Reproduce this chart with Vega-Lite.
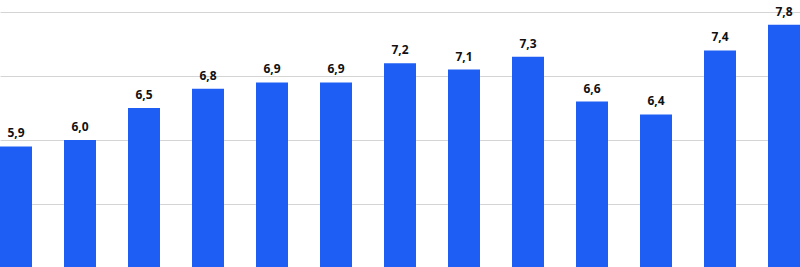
{
  "$schema": "https://vega.github.io/schema/vega-lite/v6.json",
  "width": 800,
  "height": 267,
  "autosize": {"type": "fit", "contains": "padding"},
  "padding": 0,
  "background": "white",
  "config": {
    "view": {"stroke": null},
    "locale": {"number": {"decimal": ",", "thousands": ".", "grouping": [3], "currency": ["", " €"]}}
  },
  "data": {
    "values": [
      {"i": 1, "v": 5.9}, {"i": 2, "v": 6.0}, {"i": 3, "v": 6.5}, {"i": 4, "v": 6.8},
      {"i": 5, "v": 6.9}, {"i": 6, "v": 6.9}, {"i": 7, "v": 7.2}, {"i": 8, "v": 7.1},
      {"i": 9, "v": 7.3}, {"i": 10, "v": 6.6}, {"i": 11, "v": 6.4}, {"i": 12, "v": 7.4},
      {"i": 13, "v": 7.8}
    ]
  },
  "encoding": {
    "x": {
      "field": "i", "type": "ordinal",
      "scale": {"paddingInner": 0.5, "paddingOuter": 0},
      "axis": null
    },
    "y": {
      "field": "v", "type": "quantitative",
      "scale": {"domain": [4.016, 8.1875], "zero": false, "nice": false},
      "axis": {"values": [5, 6, 7, 8], "labels": false, "ticks": false, "domain": false, "title": null, "grid": true, "gridColor": "#d4d4d4", "gridWidth": 1}
    }
  },
  "layer": [
    {"mark": {"type": "bar", "color": "#1f5ef5", "clip": true}},
    {
      "mark": {"type": "text", "baseline": "bottom", "dy": -6, "font": "Open Sans", "fontWeight": "bold", "fontSize": 12, "color": "#111111"},
      "encoding": {"text": {"field": "v", "type": "quantitative", "format": ".1f"}}
    }
  ]
}
